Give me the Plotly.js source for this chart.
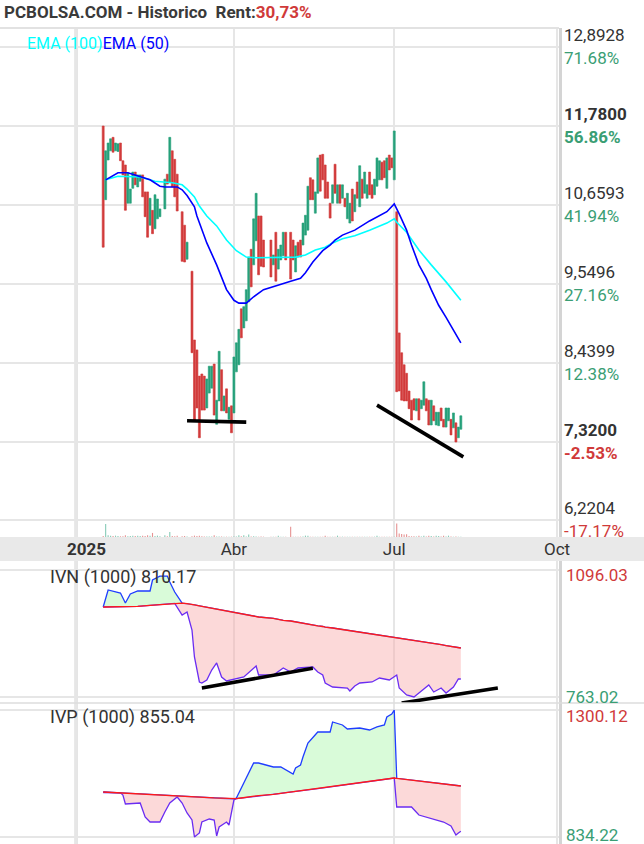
<!DOCTYPE html>
<html><head><meta charset="utf-8">
<script src="https://cdn.plot.ly/plotly-3.0.1.min.js"></script>
<style>html,body{margin:0;padding:0;background:#fff}#chart{width:644px;height:844px}</style>
</head><body><div id="chart"></div>
<script>
// ---------------- DATA ----------------
const dates = ['2025-01-16','2025-01-17','2025-01-20','2025-01-21','2025-01-22','2025-01-23','2025-01-24','2025-01-27','2025-01-28','2025-01-29',
'2025-01-30','2025-01-31','2025-02-03','2025-02-04','2025-02-05','2025-02-06','2025-02-07','2025-02-10','2025-02-11','2025-02-12',
'2025-02-13','2025-02-14','2025-02-17','2025-02-18','2025-02-20','2025-02-21','2025-02-24','2025-02-25','2025-02-26','2025-02-27',
'2025-03-03','2025-03-04','2025-03-05','2025-03-07','2025-03-10','2025-03-11','2025-03-12','2025-03-13','2025-03-14','2025-03-17',
'2025-03-18','2025-03-19','2025-03-20','2025-03-21','2025-03-24','2025-03-25','2025-03-26','2025-03-27','2025-03-28','2025-03-31',
'2025-04-01','2025-04-02','2025-04-03','2025-04-04','2025-04-07','2025-04-08','2025-04-09','2025-04-10','2025-04-11','2025-04-14',
'2025-04-15','2025-04-16','2025-04-17','2025-04-22','2025-04-23','2025-04-24','2025-04-25','2025-04-28','2025-04-29','2025-04-30',
'2025-05-02','2025-05-05','2025-05-06','2025-05-07','2025-05-08','2025-05-09','2025-05-12','2025-05-13','2025-05-14','2025-05-15',
'2025-05-16','2025-05-19','2025-05-20','2025-05-21','2025-05-22','2025-05-23','2025-05-26','2025-05-27','2025-05-28','2025-05-29',
'2025-05-30','2025-06-02','2025-06-03','2025-06-04','2025-06-05','2025-06-06','2025-06-09','2025-06-10','2025-06-11','2025-06-12',
'2025-06-13','2025-06-16','2025-06-17','2025-06-18','2025-06-19','2025-06-20','2025-06-23','2025-06-24','2025-06-25','2025-06-26',
'2025-06-27','2025-06-30','2025-07-01','2025-07-02','2025-07-03','2025-07-04','2025-07-07','2025-07-08','2025-07-09','2025-07-10',
'2025-07-11','2025-07-14','2025-07-15','2025-07-16','2025-07-17','2025-07-18','2025-07-21','2025-07-22','2025-07-23','2025-07-24',
'2025-07-25','2025-07-28','2025-07-29','2025-07-30','2025-07-31','2025-08-01','2025-08-04','2025-08-05','2025-08-06','2025-08-07'];

const open = [11.78,10.74,11.30,11.43,11.62,11.43,11.42,11.54,11.29,11.23,
10.69,10.69,10.90,11.13,10.92,11.00,11.09,10.85,10.85,10.38,
10.59,10.33,10.47,10.50,10.61,11.10,10.99,11.43,11.31,11.10,
10.57,10.38,9.90,9.73,8.76,8.62,8.25,8.28,8.25,7.80,
8.01,8.08,8.42,7.57,7.90,8.34,7.76,8.07,7.64,7.83,
7.73,8.31,8.41,9.20,8.93,9.03,9.30,10.04,9.82,10.16,
10.51,10.51,10.17,10.17,9.82,10.28,9.76,9.89,9.95,10.28,
10.28,10.17,9.72,10.14,10.17,10.10,10.24,10.31,11.05,11.02,
10.55,10.83,11.37,11.38,11.23,10.99,10.69,10.69,11.24,10.69,
10.95,10.76,10.76,10.47,10.41,10.89,10.57,10.99,10.64,11.03,
10.83,10.76,11.13,10.95,10.81,10.93,11.02,11.27,11.29,10.90,
11.37,11.33,11.02,10.57,8.86,8.58,8.41,8.29,8.04,7.91,
7.93,7.76,7.93,7.79,7.84,7.93,7.91,7.56,7.83,7.56,
7.55,7.80,7.64,7.53,7.62,7.64,7.52,7.59,7.38,7.50];

const high = [11.78,11.43,11.54,11.60,11.62,11.54,11.53,11.54,11.29,11.23,
11.12,10.89,11.13,11.13,11.09,11.09,11.09,10.85,10.85,10.76,
10.59,10.81,10.75,10.61,11.03,11.10,11.62,11.43,11.31,11.10,
10.57,10.38,10.14,9.73,8.76,8.62,8.25,8.28,8.25,8.21,
8.39,8.39,8.42,7.91,8.60,8.34,7.97,8.07,7.81,7.83,
8.52,8.72,8.91,9.20,9.23,9.47,9.93,10.04,10.47,10.83,
10.51,10.51,10.17,10.17,9.96,10.28,10.04,10.10,10.28,10.28,
10.28,10.17,10.09,10.14,10.17,10.41,10.52,10.93,11.05,11.02,
10.85,11.33,11.37,11.38,11.23,10.99,10.69,10.95,11.24,10.95,
10.95,10.95,10.76,10.83,10.69,10.89,10.81,10.99,11.22,11.03,
11.13,10.95,11.13,10.95,11.03,11.33,11.29,11.27,11.29,11.33,
11.37,11.33,11.71,10.57,8.86,8.58,8.41,8.29,8.04,7.91,
7.93,7.93,7.93,7.91,8.17,7.93,7.91,7.91,7.83,7.74,
7.74,7.80,7.64,7.80,7.80,7.64,7.73,7.59,7.53,7.69];

const low = [10.07,10.74,11.30,11.43,11.41,11.43,11.42,11.29,11.09,10.59,
10.69,10.69,10.90,10.95,10.92,11.00,10.78,10.50,10.21,10.38,
10.26,10.33,10.47,10.50,10.61,10.96,10.99,10.92,10.78,10.58,
9.87,9.86,9.90,8.58,7.63,7.80,7.38,7.77,7.77,7.80,
8.01,8.08,7.70,7.57,7.90,7.76,7.76,7.73,7.64,7.45,
7.73,8.31,8.41,8.79,8.93,9.03,9.30,9.51,9.82,10.16,
9.68,9.80,9.79,9.65,9.82,9.59,9.76,9.89,9.95,9.89,
9.62,9.89,9.72,9.93,9.93,10.10,10.24,10.31,10.74,10.74,
10.55,10.83,10.86,11.02,10.76,10.76,10.48,10.69,10.83,10.69,
10.69,10.76,10.64,10.47,10.41,10.44,10.57,10.76,10.64,10.76,
10.83,10.76,10.81,10.76,10.81,10.93,11.02,11.02,11.05,10.90,
11.16,11.19,11.02,8.03,8.04,7.91,7.90,7.90,7.79,7.63,
7.77,7.76,7.63,7.79,7.84,7.76,7.56,7.56,7.62,7.56,
7.55,7.62,7.53,7.53,7.62,7.42,7.52,7.32,7.38,7.50];

const close = [10.07,11.43,11.54,11.60,11.41,11.54,11.53,11.29,11.09,10.59,
11.12,10.89,11.13,10.95,11.09,11.09,10.78,10.50,10.21,10.76,
10.26,10.81,10.75,10.61,11.03,10.96,11.62,10.92,10.78,10.58,
9.87,9.86,10.14,8.58,7.63,7.80,7.38,7.77,7.77,8.21,
8.39,8.39,7.70,7.91,8.60,7.76,7.97,7.73,7.81,7.45,
8.52,8.72,8.91,8.79,9.23,9.47,9.93,9.51,10.47,10.83,
9.68,9.80,9.79,9.65,9.96,9.59,10.04,10.10,10.28,9.89,
9.62,9.89,10.09,9.93,9.93,10.41,10.52,10.93,10.74,10.74,
10.85,11.33,10.86,11.02,10.76,10.76,10.48,10.95,10.83,10.95,
10.69,10.95,10.64,10.83,10.69,10.44,10.81,10.76,11.22,10.76,
11.13,10.95,10.81,10.76,11.03,11.33,11.29,11.02,11.05,11.33,
11.16,11.19,11.71,8.03,8.04,7.91,7.90,7.90,7.79,7.63,
7.77,7.93,7.63,7.91,8.17,7.76,7.56,7.91,7.62,7.74,
7.74,7.62,7.53,7.80,7.80,7.42,7.73,7.32,7.53,7.69];

const volume = [3000,38000,5000,4000,3000,4000,3000,2000,2000,5000,
2000,3000,4000,3000,4000,3000,4000,3000,5000,4000,
12000,3000,4000,2000,5000,2000,15000,3000,2000,4000,
2000,3000,1500,2000,4000,3000,4000,2000,1500,1500,
1500,1500,5000,1500,1500,1500,1000,1000,1000,1000,
1500,1500,5000,2000,5000,1500,7000,1500,2000,1500,
1000,1500,1000,1000,1000,1000,4000,1000,1000,1000,
30000,1000,1000,1000,1000,1500,4000,4000,1000,1000,
1000,1000,1000,1000,4000,1000,1000,1000,1000,4000,
1000,1000,1000,1000,1000,1000,1000,1000,1000,1000,
1000,1000,1000,1000,1000,4000,1000,1000,1000,1000,
1000,1000,1000,40000,10000,9000,7000,8000,3000,2000,
2000,1500,4000,1500,4000,1500,4000,3000,1500,4000,
3000,1500,4000,1500,4000,1500,1000,1500,1000,1000];

const ema50Dates = ['2025-01-17','2025-01-24','2025-01-30','2025-02-06','2025-02-12','2025-02-18','2025-02-20','2025-02-27','2025-03-03','2025-03-05',
'2025-03-10','2025-03-11','2025-03-13','2025-03-17','2025-03-21','2025-03-27','2025-04-01','2025-04-03','2025-04-08','2025-04-11',
'2025-04-17','2025-04-25','2025-05-02','2025-05-08','2025-05-12','2025-05-15','2025-05-21','2025-05-26','2025-05-28','2025-06-02',
'2025-06-09','2025-06-17','2025-06-26','2025-07-01','2025-07-02','2025-07-03','2025-07-08','2025-07-10','2025-07-15','2025-07-18',
'2025-07-22','2025-07-25','2025-07-30','2025-08-01','2025-08-06','2025-08-07'];
const ema50 = [11.02,11.12,11.12,11.07,11.02,10.93,10.92,10.92,10.88,10.80,
10.64,10.51,10.31,10.13,9.82,9.47,9.32,9.28,9.28,9.37,
9.47,9.54,9.59,9.63,9.71,9.86,10.02,10.10,10.17,10.24,
10.31,10.44,10.57,10.68,10.62,10.54,10.31,10.10,9.82,9.63,
9.47,9.25,9.08,8.96,8.79,8.72];

const ema100Dates = ['2025-01-17','2025-01-24','2025-02-06','2025-02-14','2025-02-25','2025-03-03','2025-03-05','2025-03-10','2025-03-12','2025-03-17',
'2025-03-21','2025-03-27','2025-04-02','2025-04-08','2025-04-14','2025-04-25','2025-05-06','2025-05-12','2025-05-16','2025-05-22',
'2025-05-27','2025-06-02','2025-06-09','2025-06-17','2025-06-26','2025-07-01','2025-07-02','2025-07-08','2025-07-15','2025-07-22',
'2025-07-30','2025-08-07'];
const ema100 = [11.02,11.07,11.06,11.00,10.98,10.95,10.89,10.78,10.65,10.51,
10.37,10.17,10.02,9.93,9.92,9.93,9.93,9.96,10.03,10.07,
10.13,10.19,10.23,10.31,10.41,10.47,10.42,10.28,10.03,9.82,
9.58,9.32];

// drawn support lines (price panel)
const trendA_dates = ['2025-03-05','2025-04-08'];
const trendA_vals = [7.62, 7.60];
const trendB_dates = ['2025-06-20','2025-08-08'];
const trendB_vals = [7.84, 7.11];

// price axis labels
const priceGrid = [12.8928, 11.78, 10.6593, 9.5496, 8.4399, 7.32, 6.2204];
const priceLabels = ['12,8928','11,7800','10,6593','9,5496','8,4399','7,3200','6,2204'];
const pctLabels = ['71.68%','56.86%','41.94%','27.16%','12.38%','-2.53%','-17.17%'];
const boldLabel = [false,true,false,false,false,true,false];

// time axis
const tickDates = ['2025-01-01','2025-04-01','2025-07-01','2025-10-01'];
const tickLabels = ['2025','Abr','Jul','Oct'];

// IVN (1000)
const ivnDates = ['2025-01-16','2025-01-17','2025-01-20','2025-01-27','2025-01-29','2025-01-31','2025-02-05','2025-02-12','2025-02-13','2025-02-18',
'2025-02-21','2025-02-24','2025-02-26','2025-03-03','2025-03-05','2025-03-07','2025-03-10','2025-03-12','2025-03-13','2025-03-17',
'2025-03-19','2025-03-21','2025-03-25','2025-03-27','2025-04-07','2025-04-14','2025-04-15','2025-04-23','2025-04-29','2025-05-02',
'2025-05-07','2025-05-15','2025-05-19','2025-05-21','2025-05-22','2025-05-27','2025-06-04','2025-06-05','2025-06-09','2025-06-11',
'2025-06-18','2025-06-23','2025-06-27','2025-07-02','2025-07-03','2025-07-08','2025-07-11','2025-07-15','2025-07-21','2025-07-23',
'2025-07-28','2025-07-30','2025-08-04','2025-08-06','2025-08-07'];
const ivn = [999.0,1025.0,1043.6,1035.7,1009.5,1033.1,1041.0,1041.0,1069.8,1080.0,
1080.0,1064.6,1038.3,978.0,985.9,938.7,867.9,802.4,799.7,807.6,
833.8,852.2,815.5,805.0,815.5,844.3,820.7,820.7,839.1,828.6,
839.1,841.7,828.6,820.7,799.7,789.2,786.6,778.8,791.9,799.7,
802.4,812.8,807.6,820.7,786.6,768.3,763.02,773.5,794.5,776.1,
786.6,773.5,789.2,810.17,810.17];
const ivnSignal = [999.0,999.0,999.0,999.0,999.0,999.0,1000.5,1003.0,1003.5,1005.0,
1006.5,1007.5,1008.5,1009.0,1008.0,1007.0,1004.8,1002.2,1001.0,998.5,
995.9,993.3,990.6,987.5,980.1,974.6,972.8,969.4,964.1,962.3,
958.4,952.3,949.7,947.9,946.0,943.9,938.1,936.6,935.0,932.9,
928.7,925.8,922.1,918.7,917.4,914.5,911.2,908.8,904.6,903.0,
900.1,897.8,894.9,892.8,891.5];
const ivnScale = [763.02, 1096.03];
const trendC_dates = ['2025-03-13','2025-05-15'];
const trendC_vals = [786.6, 838.3];
const trendD_dates = ['2025-07-04','2025-08-28'];
const trendD_vals = [747.3, 786.6];

// IVP (1000)
const ivpDates = ['2025-01-16','2025-01-27','2025-01-28','2025-01-29','2025-02-06','2025-02-10','2025-02-12','2025-02-18','2025-02-20','2025-02-24',
'2025-02-27','2025-03-03','2025-03-05','2025-03-07','2025-03-10','2025-03-12','2025-03-13','2025-03-18','2025-03-20','2025-03-21',
'2025-03-24','2025-03-27','2025-03-28','2025-04-01','2025-04-02','2025-04-04','2025-04-08','2025-04-11','2025-04-15','2025-04-23',
'2025-04-28','2025-04-30','2025-05-05','2025-05-06','2025-05-08','2025-05-09','2025-05-13','2025-05-19','2025-05-26','2025-05-27',
'2025-06-02','2025-06-04','2025-06-11','2025-06-17','2025-06-20','2025-06-25','2025-06-26','2025-06-30','2025-07-01','2025-07-02',
'2025-07-10','2025-07-15','2025-07-18','2025-07-22','2025-07-29','2025-08-01','2025-08-05','2025-08-06','2025-08-07'];
const ivp = [997.5,997.5,988.3,955.3,959.0,907.6,889.2,889.2,925.9,959.0,
981.0,959.0,922.3,896.6,834.22,848.9,889.2,900.3,896.6,837.9,
870.9,889.2,878.2,969.9,977.3,1014.0,1054.3,1105.7,1105.7,1091.0,
1091.0,1080.0,1065.3,1087.3,1098.4,1127.7,1179.1,1219.4,1219.4,1256.1,
1245.1,1230.4,1234.1,1226.7,1237.8,1245.1,1274.4,1285.0,1300.12,944.3,
944.3,914.9,907.6,900.3,889.2,874.6,841.6,848.9,855.04];
const ivpSignal = [999.3,996.4,995.6,995.3,992.3,991.2,990.1,988.3,987.6,986.5,
985.0,983.9,983.2,982.1,981.3,980.6,980.2,978.8,977.7,977.3,
976.6,975.1,974.8,973.6,974.8,977.3,979.9,983.2,986.1,990.9,
994.6,996.8,999.3,1000.8,1003.0,1004.4,1007.0,1011.8,1018.0,1019.5,
1024.6,1026.8,1033.4,1038.2,1040.8,1045.9,1047.4,1049.6,1050.7,1049.6,
1043.0,1039.7,1036.7,1034.5,1029.0,1025.7,1023.5,1022.8,1021.3];
const ivpScale = [834.22, 1300.12];

// ---------------- STYLE / LAYOUT ----------------
const W = 644, H = 844, PR = 559;
const fy = p => 1 - p / H;
const GREEN = '#26a17b', RED = '#d23b3b';
const TXT = '#333333', LBLGREEN = '#3a9e74', LBLRED = '#d03a3a';
const GRID = '#e6e6e6';
const XR = ['2024-11-19 04:00', '2025-10-01 19:00'];
const BREAKS = [{bounds: ['sat', 'mon']}];

const traces = [];
// volume
traces.push({type: 'bar', x: dates, y: volume, xaxis: 'x', yaxis: 'y4',
  width: 0.45 * 864e5,
  marker: {color: close.map((c, i) => c >= open[i] ? 'rgba(38,161,123,0.55)' : 'rgba(210,59,59,0.55)')},
  hoverinfo: 'skip', showlegend: false});
// candles
traces.push({type: 'candlestick', x: dates, open: open, high: high, low: low, close: close,
  xaxis: 'x', yaxis: 'y', whiskerwidth: 0,
  increasing: {line: {color: GREEN, width: 0.6}, fillcolor: GREEN},
  decreasing: {line: {color: RED, width: 0.6}, fillcolor: RED},
  hoverinfo: 'skip', showlegend: false});
// EMAs
traces.push({type: 'scatter', mode: 'lines', x: ema100Dates, y: ema100, xaxis: 'x', yaxis: 'y',
  line: {color: '#00ffff', width: 1.6}, hoverinfo: 'skip', showlegend: false});
traces.push({type: 'scatter', mode: 'lines', x: ema50Dates, y: ema50, xaxis: 'x', yaxis: 'y',
  line: {color: '#0000ff', width: 1.6}, hoverinfo: 'skip', showlegend: false});
// drawn lines
[[trendA_dates, trendA_vals, 'y'], [trendB_dates, trendB_vals, 'y']].forEach(t => {
  traces.push({type: 'scatter', mode: 'lines', x: t[0], y: t[1], xaxis: 'x', yaxis: t[2],
    line: {color: '#000', width: 3.6}, hoverinfo: 'skip', showlegend: false});
});

function indicator(d, v, s, xa, ya) {
  const up = v.map((x, i) => Math.max(x, s[i]));
  const dn = v.map((x, i) => Math.min(x, s[i]));
  const base = {type: 'scatter', x: d, mode: 'lines', xaxis: xa, yaxis: ya, hoverinfo: 'skip', showlegend: false};
  return [
    Object.assign({}, base, {y: s, line: {width: 0}}),
    Object.assign({}, base, {y: up, fill: 'tonexty', fillcolor: 'rgba(165,245,165,0.42)', line: {color: '#1f3dff', width: 1.3}}),
    Object.assign({}, base, {y: s, line: {width: 0}}),
    Object.assign({}, base, {y: dn, fill: 'tonexty', fillcolor: 'rgba(248,170,170,0.45)', line: {color: '#6a2cf2', width: 1.3}}),
    Object.assign({}, base, {y: s, line: {color: '#ff1a1a', width: 1.3}})
  ];
}
traces.push(...indicator(ivnDates, ivn, ivnSignal, 'x2', 'y2'));
traces.push(...indicator(ivpDates, ivp, ivpSignal, 'x3', 'y3'));
[[trendC_dates, trendC_vals], [trendD_dates, trendD_vals]].forEach(t => {
  traces.push({type: 'scatter', mode: 'lines', x: t[0], y: t[1], xaxis: 'x2', yaxis: 'y2',
    line: {color: '#000', width: 3.6}, hoverinfo: 'skip', showlegend: false});
});

const xBase = {type: 'date', range: XR, rangebreaks: BREAKS, tickmode: 'array', tickvals: tickDates,
  showgrid: true, gridcolor: GRID, gridwidth: 2, zeroline: false, showline: false, ticks: '', fixedrange: true};
const yBase = {side: 'right', showticklabels: false, showgrid: true, gridcolor: GRID, gridwidth: 2,
  zeroline: false, showline: true, linecolor: '#d4d4d4', linewidth: 3, ticks: '', fixedrange: true, tickmode: 'array'};

const annotations = [];
priceGrid.forEach((v, i) => {
  const b = boldLabel[i];
  annotations.push({xref: 'paper', yref: 'y', x: 1, y: v, xanchor: 'left', yanchor: 'middle', xshift: 3, yshift: 12,
    showarrow: false, text: b ? '<b>' + priceLabels[i] + '</b>' : priceLabels[i], font: {size: 17, color: TXT}});
  const neg = pctLabels[i].charAt(0) === '-';
  annotations.push({xref: 'paper', yref: 'y', x: 1, y: v, xanchor: 'left', yanchor: 'middle', xshift: 3, yshift: -11,
    showarrow: false, text: b ? '<b>' + pctLabels[i] + '</b>' : pctLabels[i], font: {size: 17, color: neg ? LBLRED : LBLGREEN}});
});
annotations.push({xref: 'paper', yref: 'y2', x: 1, y: ivnScale[1], xanchor: 'left', yanchor: 'middle', xshift: 5, yshift: -5,
  showarrow: false, text: ivnScale[1].toFixed(2), font: {size: 17, color: LBLRED}});
annotations.push({xref: 'paper', yref: 'y2', x: 1, y: ivnScale[0], xanchor: 'left', yanchor: 'middle', xshift: 5, yshift: 0,
  showarrow: false, text: ivnScale[0].toFixed(2), font: {size: 17, color: LBLGREEN}});
annotations.push({xref: 'paper', yref: 'y3', x: 1, y: ivpScale[1], xanchor: 'left', yanchor: 'middle', xshift: 5, yshift: -6,
  showarrow: false, text: ivpScale[1].toFixed(2), font: {size: 17, color: LBLRED}});
annotations.push({xref: 'paper', yref: 'y3', x: 1, y: ivpScale[0], xanchor: 'left', yanchor: 'middle', xshift: 5, yshift: 2,
  showarrow: false, text: ivpScale[0].toFixed(2), font: {size: 17, color: LBLGREEN}});
// legend
annotations.push({xref: 'paper', yref: 'paper', x: 25 / PR, y: fy(44), xanchor: 'left', yanchor: 'middle', showarrow: false,
  text: '<span style="color:#00ffff">EMA (100)</span><span style="color:#0000ff">EMA (50)</span>', font: {size: 16}});
// panel labels
annotations.push({xref: 'paper', yref: 'paper', x: 48 / PR, y: fy(577), xanchor: 'left', yanchor: 'middle', showarrow: false,
  text: 'IVN (1000) ' + ivn[ivn.length - 1].toFixed(2), font: {size: 18, color: TXT}});
annotations.push({xref: 'paper', yref: 'paper', x: 48 / PR, y: fy(717), xanchor: 'left', yanchor: 'middle', showarrow: false,
  text: 'IVP (1000) ' + ivp[ivp.length - 1].toFixed(2), font: {size: 18, color: TXT}});

const shapes = [
  {type: 'rect', xref: 'paper', yref: 'paper', x0: 0, x1: W / PR, y0: fy(561), y1: fy(537), fillcolor: '#e9e9e9', line: {width: 0}, layer: 'below'},
  {type: 'line', xref: 'paper', yref: 'paper', x0: 0, x1: 1, y0: fy(28), y1: fy(28), line: {color: '#e2e2e2', width: 2}},
  {type: 'line', xref: 'paper', yref: 'paper', x0: 0, x1: W / PR, y0: fy(703), y1: fy(703), line: {color: '#dddddd', width: 1.5}}
];
[['x', 'y'], ['x2', 'y2'], ['x3', 'y3']].forEach(p => {
  shapes.push({type: 'line', xref: p[0], yref: p[1] + ' domain', x0: tickDates[0], x1: tickDates[0], y0: 0, y1: 1,
    line: {color: '#cfcfcf', width: 3}, layer: 'below'});
});

const layout = {
  width: W, height: H, margin: {l: 0, r: W - PR, t: 0, b: 0},
  paper_bgcolor: '#fff', plot_bgcolor: 'rgba(0,0,0,0)', showlegend: false, boxgap: 0.2, boxgroupgap: 0,
  font: {family: 'Roboto, "DejaVu Sans", sans-serif', size: 15, color: TXT},
  title: {text: '<b>PCBOLSA.COM - Historico\u00a0\u00a0Rent:<span style="color:#d03a3a">30,73%</span></b>',
    xref: 'container', yref: 'container', x: 4 / W, xanchor: 'left', y: fy(12), yanchor: 'middle',
    font: {family: 'Roboto', size: 17, color: '#3a3a3a'}},
  xaxis: Object.assign({}, xBase, {anchor: 'y', domain: [0, 1], rangeslider: {visible: false},
    ticktext: tickLabels.map((t, i) => i === 0 ? '\u00a0\u00a0\u00a0\u00a0\u00a0<b>' + t + '</b>' : t),
    showticklabels: true, tickfont: {size: 17, color: TXT}}),
  xaxis2: Object.assign({}, xBase, {anchor: 'y2', domain: [0, 1], showticklabels: false}),
  xaxis3: Object.assign({}, xBase, {anchor: 'y3', domain: [0, 1], showticklabels: false}),
  yaxis: Object.assign({}, yBase, {anchor: 'x', domain: [fy(537), fy(28)], range: [5.9792, 13.1632], tickvals: priceGrid}),
  yaxis4: {overlaying: 'y', anchor: 'x', side: 'right', range: [0, 1500000], visible: false, fixedrange: true},
  yaxis2: Object.assign({}, yBase, {anchor: 'x2', domain: [fy(703), fy(561)], range: [747.29, 1119.61], tickvals: ivnScale}),
  yaxis3: Object.assign({}, yBase, {anchor: 'x3', domain: [0, fy(703)], range: [808.54, 1325.8], tickvals: ivpScale}),
  annotations: annotations,
  shapes: shapes
};

Plotly.newPlot('chart', traces, layout, {staticPlot: true, displayModeBar: false});
</script>
</body></html>
